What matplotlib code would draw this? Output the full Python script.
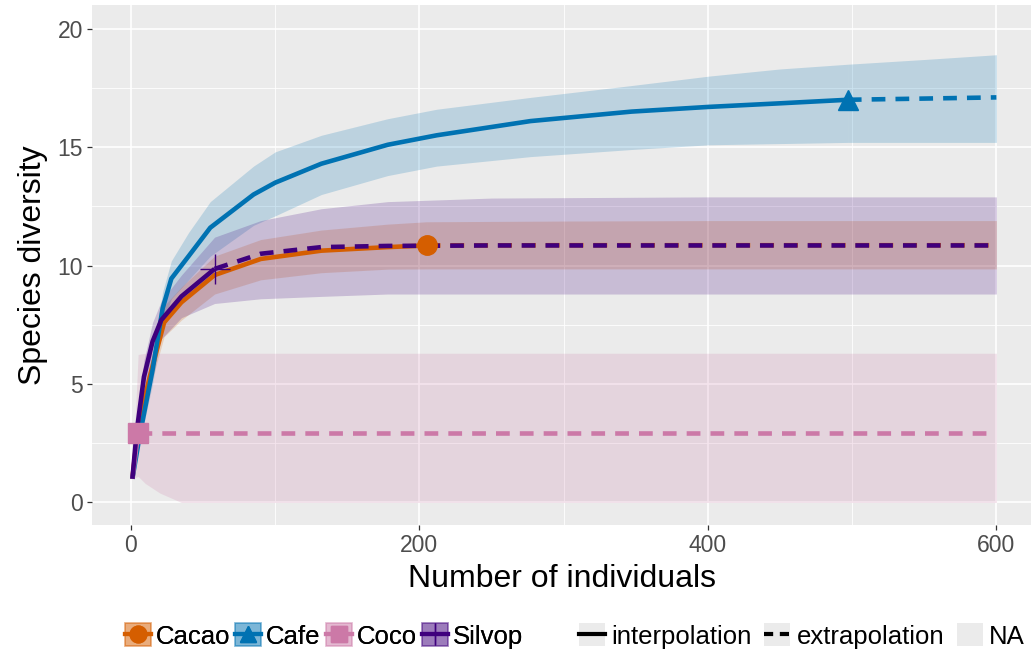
import matplotlib
matplotlib.use("Agg")
import matplotlib.pyplot as plt
from matplotlib.lines import Line2D
from matplotlib.patches import Patch
from matplotlib.legend_handler import HandlerTuple

plt.rcParams['font.family'] = ['Liberation Sans', 'DejaVu Sans']

groups = ["Cacao", "Cafe", "Coco", "Silvop"]
colors = {"Cacao": "#D55E00", "Cafe": "#0072B2", "Coco": "#CC79A7", "Silvop": "#3F007D"}
markers = {"Cacao": "o", "Cafe": "^", "Coco": "s", "Silvop": "+"}

# interpolation
cacao_x_int = [1, 5, 13, 23, 35, 58, 90, 132, 178, 205]
cacao_y_int = [1.0, 3.2, 5.3, 7.6, 8.45, 9.6, 10.28, 10.63, 10.78, 10.85]
cacao_lo_int = [1.0, 2.8, 4.8, 7.0, 7.7, 8.8, 9.4, 9.7, 9.85, 9.86]
cacao_hi_int = [1.0, 3.7, 5.8, 8.3, 9.1, 10.4, 11.1, 11.5, 11.75, 11.85]
cacao_x_ext = [205, 300, 400, 500, 600]
cacao_y_ext = [10.85, 10.86, 10.86, 10.86, 10.86]
cacao_lo_ext = [9.86, 9.86, 9.86, 9.86, 9.86]
cacao_hi_ext = [11.85, 11.88, 11.9, 11.9, 11.9]

cafe_x_int = [1, 6, 15, 22, 28, 40, 55, 85, 100, 132, 178, 212, 277, 347, 401, 450, 497]
cafe_y_int = [1.0, 2.8, 5.6, 8.2, 9.45, 10.4, 11.6, 13.0, 13.5, 14.3, 15.1, 15.5, 16.1, 16.5, 16.7, 16.85, 17.0]
cafe_lo_int = [1.0, 2.5, 5.0, 7.5, 8.6, 9.4, 10.4, 11.7, 12.1, 13.0, 13.8, 14.2, 14.6, 14.9, 15.1, 15.15, 15.2]
cafe_hi_int = [1.0, 3.1, 6.2, 8.9, 10.2, 11.4, 12.7, 14.2, 14.8, 15.5, 16.2, 16.6, 17.1, 17.6, 18.0, 18.3, 18.5]
cafe_x_ext = [497, 550, 600]
cafe_y_ext = [17.0, 17.05, 17.1]
cafe_lo_ext = [15.2, 15.2, 15.2]
cafe_hi_ext = [18.5, 18.7, 18.9]

coco_x_int = [1, 5]
coco_y_int = [1.0, 2.95]
coco_lo_int = [1.0, 1.1]
coco_hi_int = [1.0, 6.25]
coco_x_ext = [5, 10, 20, 35, 600]
coco_y_ext = [2.95, 2.95, 2.95, 2.95, 2.95]
coco_lo_ext = [1.1, 0.8, 0.4, 0.0, 0.0]
coco_hi_ext = [6.25, 6.3, 6.3, 6.3, 6.3]

silvop_x_int = [1, 4, 9, 15, 21, 35, 58]
silvop_y_int = [1.0, 3.0, 5.3, 6.8, 7.7, 8.7, 9.86]
silvop_lo_int = [1.0, 2.6, 4.6, 6.0, 6.9, 7.8, 8.4]
silvop_hi_int = [1.0, 3.4, 6.0, 7.6, 8.5, 9.6, 11.2]
silvop_x_ext = [58, 90, 132, 178, 250, 400, 600]
silvop_y_ext = [9.86, 10.5, 10.78, 10.83, 10.85, 10.85, 10.85]
silvop_lo_ext = [8.4, 8.6, 8.7, 8.8, 8.8, 8.8, 8.8]
silvop_hi_ext = [11.2, 11.9, 12.4, 12.7, 12.85, 12.9, 12.9]

observed = {"Cacao": (205, 10.85), "Cafe": (497, 17.0), "Coco": (5, 2.95), "Silvop": (58, 9.86)}

data = {
    "Cacao": (cacao_x_int, cacao_y_int, cacao_lo_int, cacao_hi_int, cacao_x_ext, cacao_y_ext, cacao_lo_ext, cacao_hi_ext),
    "Cafe": (cafe_x_int, cafe_y_int, cafe_lo_int, cafe_hi_int, cafe_x_ext, cafe_y_ext, cafe_lo_ext, cafe_hi_ext),
    "Coco": (coco_x_int, coco_y_int, coco_lo_int, coco_hi_int, coco_x_ext, coco_y_ext, coco_lo_ext, coco_hi_ext),
    "Silvop": (silvop_x_int, silvop_y_int, silvop_lo_int, silvop_hi_int, silvop_x_ext, silvop_y_ext, silvop_lo_ext, silvop_hi_ext),
}

fig = plt.figure(figsize=(10.31, 6.52), dpi=100)
ax = fig.add_axes([92 / 1031, 127 / 652, 939 / 1031, 520 / 652])
ax.set_facecolor("#EBEBEB")
for s in ax.spines.values():
    s.set_visible(False)

ax.set_xlim(-27, 624)
ax.set_ylim(-0.95, 21.0)
ax.set_xticks([0, 200, 400, 600])
ax.set_yticks([0, 5, 10, 15, 20])
ax.set_xticks([100, 300, 500], minor=True)
ax.set_yticks([2.5, 7.5, 12.5, 17.5], minor=True)
ax.grid(which="major", color="white", lw=1.2)
ax.grid(which="minor", color="white", lw=0.6)
ax.set_axisbelow(True)
ax.tick_params(which="major", length=3.5, width=0.9, color="#333333", labelcolor="#4D4D4D", labelsize=16.5, pad=3)
ax.tick_params(which="minor", length=0)

# ribbons
for g in groups:
    xi, yi, li, hi, xe, ye, le, he = data[g]
    ax.fill_between(xi, li, hi, color=colors[g], alpha=0.2, lw=0)
    ax.fill_between(xe, le, he, color=colors[g], alpha=0.2, lw=0)

# lines
for g in groups:
    xi, yi, li, hi, xe, ye, le, he = data[g]
    ax.plot(xi, yi, color=colors[g], lw=3.3, solid_capstyle="butt")
    ax.plot(xe, ye, color=colors[g], lw=3.3, ls=(0, (3.0, 2.2)), dash_capstyle="butt")

# points
for g in groups:
    x0, y0 = observed[g]
    if g == "Silvop":
        ax.plot([x0], [y0], marker="+", color=colors[g], ms=22, mew=1.0, ls="none")
    else:
        ax.plot([x0], [y0], marker=markers[g], color=colors[g], ms=14, ls="none")

ax.set_xlabel("Number of individuals", fontsize=23, labelpad=5)
ax.set_ylabel("Species diversity", fontsize=23, labelpad=7)

# legends
hmap = {tuple: HandlerTuple(ndivide=1, pad=0)}
h1 = []
for g in groups:
    if g == "Silvop":
        mk = Line2D([], [], color=colors[g], marker="+", ms=16, mew=1.0, lw=3)
    else:
        mk = Line2D([], [], color=colors[g], marker=markers[g], ms=12, lw=3)
    box = Patch(facecolor=colors[g], alpha=0.3, edgecolor=colors[g], lw=1.2)
    h1.append((box, mk))
leg1 = fig.legend(h1, groups, loc="center", bbox_to_anchor=(324 / 1031, 1 - 636 / 652),
                  ncol=4, frameon=False, fontsize=18.5, handlelength=1.0, handleheight=1.0,
                  handletextpad=0.2, columnspacing=0.2, borderpad=0.2, handler_map=hmap)
fig.add_artist(leg1)

h2 = [(Patch(facecolor="#EBEBEB", lw=0), Line2D([], [], color="black", lw=3)),
      (Patch(facecolor="#EBEBEB", lw=0), Line2D([], [], color="black", lw=3, ls=(0, (2.2, 1.6)))),
      Patch(facecolor="#EBEBEB", lw=0)]
fig.legend(h2, ["interpolation", "extrapolation", "NA"], loc="center",
           bbox_to_anchor=(802 / 1031, 1 - 636 / 652), ncol=3, frameon=False, fontsize=18.5,
           handlelength=1.0, handleheight=1.0, handletextpad=0.25, columnspacing=0.5,
           borderpad=0.2, handler_map=hmap)

fig.savefig("out.png", dpi=100)
